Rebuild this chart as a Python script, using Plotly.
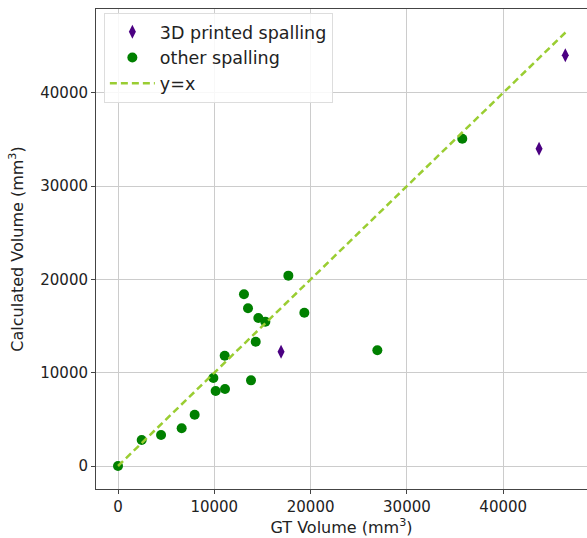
import plotly.graph_objects as go

# 3D printed spalling
gt_3d = [16930, 43720, 46450]
calc_3d = [12250, 34010, 44010]

# other spalling
gt_other = [0, 2460, 4470, 6610, 7960, 9900, 10140, 11110, 11080, 13080, 13500,
            13810, 14300, 14570, 15300, 17690, 19350, 26930, 35750]
calc_other = [0, 2790, 3320, 4040, 5500, 9430, 8040, 8250, 11820, 18400, 16900,
              9180, 13320, 15860, 15470, 20400, 16430, 12400, 35080]

# y = x reference line
line_x = [0, 46500]
line_y = [0, 46500]

x_ticks = [0, 10000, 20000, 30000, 40000]
y_ticks = [0, 10000, 20000, 30000, 40000]

fig = go.Figure()
fig.add_trace(go.Scatter(
    x=gt_3d, y=calc_3d, mode="markers", name="3D printed spalling",
    marker=dict(symbol="diamond-tall", size=10, color="#4B0082"),
))
fig.add_trace(go.Scatter(
    x=gt_other, y=calc_other, mode="markers", name="other spalling",
    marker=dict(symbol="circle", size=10, color="#008000"),
))
fig.add_trace(go.Scatter(
    x=line_x, y=line_y, mode="lines", name="y=x",
    line=dict(color="#9ACD32", width=2.5, dash="7px,4px"),
))

axis_font = dict(family="DejaVu Sans", size=15, color="#222222")
title_font = dict(family="DejaVu Sans", size=16, color="#222222")
fig.update_layout(
    width=587, height=538,
    margin=dict(l=96, r=0, t=9, b=49),
    paper_bgcolor="white", plot_bgcolor="white",
    font=dict(family="DejaVu Sans", size=15, color="#222222"),
    showlegend=True,
    legend=dict(
        x=0.016, y=0.992, xanchor="left", yanchor="top",
        bgcolor="rgba(255,255,255,0.85)", bordercolor="#dddddd", borderwidth=1,
        font=dict(family="DejaVu Sans", size=17.5, color="#222222"),
        tracegroupgap=0, itemwidth=45,
    ),
    xaxis=dict(
        range=[-2285, 48700], tickvals=x_ticks, ticktext=[str(v) for v in x_ticks],
        showgrid=True, gridcolor="#cccccc", gridwidth=1, zeroline=False,
        showline=True, linecolor="#444444", linewidth=1, mirror=True,
        ticks="outside", ticklen=4, tickcolor="#444444", tickfont=axis_font,
        title=dict(text="GT Volume (mm<sup>3</sup>)", font=title_font, standoff=6),
    ),
    yaxis=dict(
        range=[-2465, 48980], tickvals=y_ticks, ticktext=[str(v) for v in y_ticks],
        showgrid=True, gridcolor="#cccccc", gridwidth=1, zeroline=False,
        showline=True, linecolor="#444444", linewidth=1, mirror=False,
        ticks="outside", ticklen=4, tickcolor="#444444", tickfont=axis_font,
        title=dict(text="Calculated Volume (mm<sup>3</sup>)", font=title_font, standoff=12),
    ),
)

fig.write_html("out.html")
